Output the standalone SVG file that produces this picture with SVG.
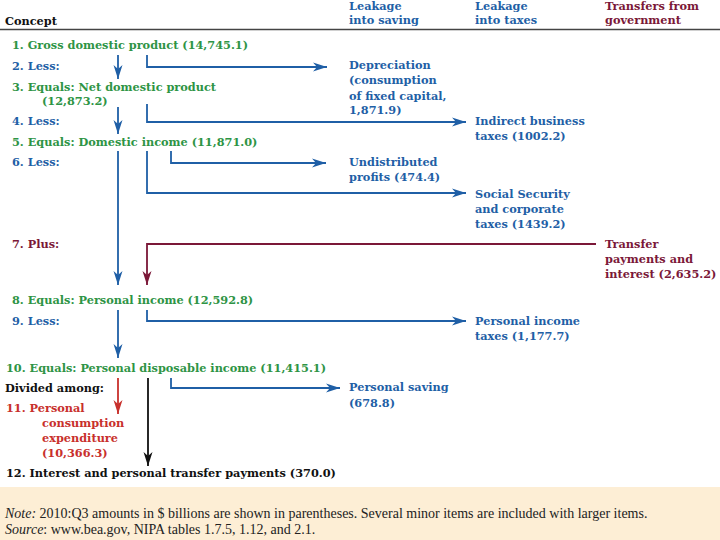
<svg xmlns="http://www.w3.org/2000/svg" width="720" height="540" viewBox="0 0 720 540">
<style>
text{font-family:"DejaVu Serif","Liberation Serif",serif;font-size:11.3px;font-weight:bold}
.g{fill:#2e9445}.b{fill:#1f5fa6}.m{fill:#7b1838}.r{fill:#c8302c}.k{fill:#111}
.ft{font-family:"Liberation Serif",serif;font-weight:normal;font-size:14px;fill:#222}
.lb{fill:none;stroke:#1f5fa6;stroke-width:1.8}
.lm{fill:none;stroke:#7b1838;stroke-width:1.8}
.lr{fill:none;stroke:#c8302c;stroke-width:1.8}
.lk{fill:none;stroke:#111;stroke-width:1.8}
</style>
<defs>
<marker id="ab" markerUnits="userSpaceOnUse" markerWidth="16" markerHeight="10" refX="14" refY="5" orient="auto"><path d="M0,0.5 L14,5 L0,9.5 L4,5 Z" fill="#1f5fa6"/></marker>
<marker id="am" markerUnits="userSpaceOnUse" markerWidth="16" markerHeight="10" refX="14" refY="5" orient="auto"><path d="M0,0.5 L14,5 L0,9.5 L4,5 Z" fill="#7b1838"/></marker>
<marker id="ar" markerUnits="userSpaceOnUse" markerWidth="16" markerHeight="10" refX="14" refY="5" orient="auto"><path d="M0,0.5 L14,5 L0,9.5 L4,5 Z" fill="#c8302c"/></marker>
<marker id="ak" markerUnits="userSpaceOnUse" markerWidth="16" markerHeight="10" refX="14" refY="5" orient="auto"><path d="M0,0.5 L14,5 L0,9.5 L4,5 Z" fill="#111"/></marker>
</defs>
<rect width="720" height="540" fill="#fff"/>
<g id="header">
<text x="5" y="25" class="k">Concept</text>
<text x="349" y="10" class="b">Leakage</text>
<text x="349" y="24" class="b">into saving</text>
<text x="475" y="10" class="b">Leakage</text>
<text x="475" y="24" class="b">into taxes</text>
<text x="605" y="10" class="m">Transfers from</text>
<text x="605" y="24" class="m">government</text>
<line x1="0" y1="29.5" x2="720" y2="29.5" stroke="#444" stroke-width="1.5"/>
</g>
<g id="concepts">
<text id="n1" x="12" y="49" class="g">1. Gross domestic product (14,745.1)</text>
<text id="n2" x="12" y="70" class="b">2. Less:</text>
<text id="n3" x="12" y="91" class="g">3. Equals: Net domestic product</text>
<text x="42" y="105" class="g">(12,873.2)</text>
<text id="n4" x="12" y="125" class="b">4. Less:</text>
<text id="n5" x="12" y="146" class="g">5. Equals: Domestic income (11,871.0)</text>
<text id="n6" x="12" y="166" class="b">6. Less:</text>
<text id="n7" x="12" y="248" class="m">7. Plus:</text>
<text id="n8" x="12" y="304" class="g">8. Equals: Personal income (12,592.8)</text>
<text id="n9" x="12" y="325" class="b">9. Less:</text>
<text id="n10" x="6" y="372" class="g">10. Equals: Personal disposable income (11,415.1)</text>
<text x="5" y="392" class="k">Divided among:</text>
<g id="n11">
<text x="6" y="412" class="r">11. Personal</text>
<text x="42" y="427" class="r">consumption</text>
<text x="42" y="442" class="r">expenditure</text>
<text x="42" y="457" class="r">(10,366.3)</text>
</g>
<text id="n12" x="6" y="477" class="k">12. Interest and personal transfer payments (370.0)</text>
</g>
<g id="leakages">
<g id="dep"><text x="349" y="69" class="b">Depreciation</text><text x="349" y="84" class="b">(consumption</text><text x="349" y="100" class="b">of fixed capital,</text><text x="349" y="114" class="b">1,871.9)</text></g>
<g id="ibt"><text x="475" y="125" class="b">Indirect business</text><text x="475" y="140" class="b">taxes (1002.2)</text></g>
<g id="undist"><text x="349" y="166" class="b">Undistributed</text><text x="349" y="181" class="b">profits (474.4)</text></g>
<g id="ss"><text x="475" y="198" class="b">Social Security</text><text x="475" y="213" class="b">and corporate</text><text x="475" y="228" class="b">taxes (1439.2)</text></g>
<g id="transfer"><text x="605" y="248" class="m">Transfer</text><text x="605" y="263" class="m">payments and</text><text x="605" y="278" class="m">interest (2,635.2)</text></g>
<g id="pit"><text x="475" y="325" class="b">Personal income</text><text x="475" y="340" class="b">taxes (1,177.7)</text></g>
<g id="ps"><text x="349" y="391" class="b">Personal saving</text><text x="349" y="407" class="b">(678.8)</text></g>
</g>
<g id="connectors">
<path class="lb" d="M118,55 V79" marker-end="url(#ab)"/>
<path class="lb" d="M118,107 V134" marker-end="url(#ab)"/>
<path class="lb" d="M118,151 V285" marker-end="url(#ab)"/>
<path class="lb" d="M118,310 V358" marker-end="url(#ab)"/>
<path class="lr" d="M118,378 V414" marker-end="url(#ar)"/>
<path class="lk" d="M148,378 V466" marker-end="url(#ak)"/>
<path class="lb" d="M147,55 V67 H327" marker-end="url(#ab)"/>
<path class="lb" d="M147,104 V122 H466" marker-end="url(#ab)"/>
<path class="lb" d="M147,151 V193 H466" marker-end="url(#ab)"/>
<path class="lb" d="M171,151 V163 H326" marker-end="url(#ab)"/>
<path class="lm" d="M596,244 H147 V285" marker-end="url(#am)"/>
<path class="lb" d="M147,310 V321 H466" marker-end="url(#ab)"/>
<path class="lb" d="M171,378 V388 H340" marker-end="url(#ab)"/>
</g>
<g id="footer">
<rect x="0" y="487" width="720" height="53" fill="#fdeed5"/>
<text x="5" y="518" class="ft"><tspan font-style="italic">Note:</tspan> 2010:Q3 amounts in $ billions are shown in parentheses. Several minor items are included with larger items.</text>
<text x="5" y="534" class="ft"><tspan font-style="italic">Source</tspan>: www.bea.gov, NIPA tables 1.7.5, 1.12, and 2.1.</text>
</g>
</svg>
